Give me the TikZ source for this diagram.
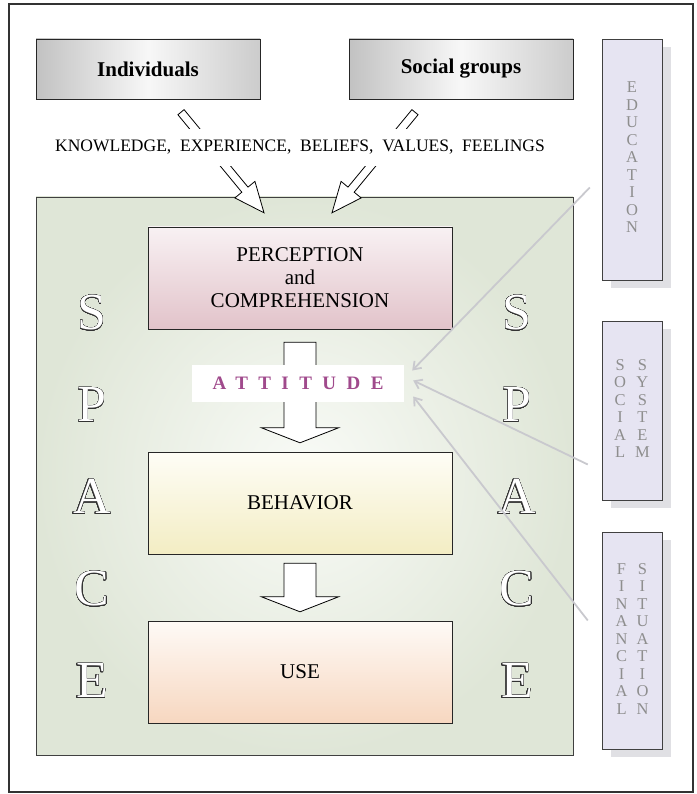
\documentclass[tikz,border=0pt]{standalone}
\usepackage{fontspec}
\setmainfont{Liberation Serif}[BoldFont={Liberation Serif Bold}, ItalicFont={Liberation Serif Italic}]
\newfontfamily\spacedfont{Liberation Serif Bold}[LetterSpace=55]
\newfontfamily\sourcefont{Liberation Serif Bold}
\usepackage[copies]{contour}
\contourlength{0.4pt}
\contournumber{32}
\usetikzlibrary{calc,shadows,arrows.meta}

\definecolor{spacegreen}{HTML}{DFE6D7}
\definecolor{spacelight}{HTML}{F9FBF7}
\definecolor{perctop}{HTML}{F8F1F3}
\definecolor{percpink}{HTML}{E2C3CA}
\definecolor{behtop}{HTML}{FEFDF6}
\definecolor{behyellow}{HTML}{F3EDC3}
\definecolor{usetop}{HTML}{FEFAF6}
\definecolor{usepeach}{HTML}{F7D7C0}
\definecolor{sidelilac}{HTML}{E6E4F2}
\definecolor{sidegray}{HTML}{8E8E8E}
\definecolor{shadowgray}{HTML}{E0E0E4}
\definecolor{linkgray}{HTML}{C9C9CE}
\definecolor{attpurple}{HTML}{A04A8C}

\tikzset{
    outer-frame/.style = {draw=black!80, line width=1.6pt},
    source-box/.style = {draw=black!85, thin, rectangle, minimum width=224pt, minimum height=60pt, left color=black!24, right color=black!20, middle color=black!3, font=\sourcefont\fontsize{21}{24}\selectfont},
    space-box/.style = {draw=black!75, thin, rectangle, minimum width=537pt, minimum height=558pt, inner color=spacelight, outer color=spacegreen},
    stage-box/.style = {draw=black!85, thin, rectangle, minimum width=304pt, minimum height=102pt, align=center, font=\fontsize{21}{23}\selectfont},
    side-box/.style = {draw=black!75, thin, rectangle, fill=sidelilac, minimum width=60pt, inner sep=0pt, text=sidegray, font=\fontsize{16.5}{17.5}\selectfont, drop shadow={shadow xshift=9pt, shadow yshift=-8pt, fill=shadowgray, opacity=1}},
    space-letter/.style = {font=\fontsize{52}{52}\selectfont, inner sep=0pt},
    attitude-box/.style = {fill=white, minimum width=212pt, minimum height=37pt, text=attpurple, font=\spacedfont\fontsize{19}{19}\selectfont},
    factors/.style = {fill=white, inner xsep=4pt, inner ysep=11pt, text height=12pt, text depth=3pt, font=\fontsize{17.5}{20}\selectfont},
    block-arrow/.style = {draw=black, fill=white, line width=0.8pt, line join=miter},
    influence/.style = {draw=linkgray, line width=1.8pt, -{Straight Barb[length=7pt,width=10pt]}},
}

% tail, tip, half shaft, half head, head length
\newcommand{\hollowarrow}[5]{%
    \coordinate (habase) at ($(#2)!#5!(#1)$);
    \draw[block-arrow] ($(#1)!#3!90:(#2)$) -- ($(habase)!#3!90:(#2)$) -- ($(habase)!#4!90:(#2)$) -- (#2)
        -- ($(habase)!#4!-90:(#2)$) -- ($(habase)!#3!-90:(#2)$) -- ($(#1)!#3!-90:(#2)$) -- cycle;
}

\newcommand{\hollowletter}[1]{\contour{black!80}{\textcolor{white}{#1}}}

\begin{document}
\begin{tikzpicture}[x=1pt, y=-1pt]
\useasboundingbox (0,0) rectangle (696,794);
\draw[outer-frame] (9,4) rectangle (693,792);

% sources
\node[source-box] (ind) at (148,69) {Individuals};
\node[source-box] (soc) at (461,69) {Social groups};

% space and stages
\node[space-box] (space) at (304.5,476) {};
\node[stage-box, top color=perctop, bottom color=percpink] (perc) at (300,278) {PERCEPTION\\and\\COMPREHENSION};
\node[stage-box, top color=behtop, bottom color=behyellow] (beh) at (300,503) {BEHAVIOR};
\node[stage-box, top color=usetop, bottom color=usepeach] (use) at (300,672) {USE};

% what comes in
\coordinate (ind-out) at ($(ind.south)+(33,13)$);
\coordinate (soc-out) at ($(soc.south)+(-46,13)$);
\coordinate (perc-in1) at ($(perc.north)+(-36,-14)$);
\coordinate (perc-in2) at ($(perc.north)+(32,-14)$);
\hollowarrow{ind-out}{perc-in1}{4pt}{13pt}{30pt}
\hollowarrow{soc-out}{perc-in2}{4pt}{13pt}{30pt}
\node[factors] (factors) at (300,147.5) {KNOWLEDGE,\ \ EXPERIENCE,\ \ BELIEFS,\ \ VALUES,\ \ FEELINGS};

% down the stages
\coordinate (perc-out) at ($(perc.south)+(0,13)$);
\coordinate (beh-in) at ($(beh.north)+(0,-9)$);
\coordinate (beh-out) at ($(beh.south)+(0,9)$);
\coordinate (use-in) at ($(use.north)+(0,-9)$);
\hollowarrow{perc-out}{beh-in}{16pt}{38.5pt}{15pt}
\hollowarrow{beh-out}{use-in}{16pt}{38.5pt}{15pt}

\node[attitude-box] (att) at (298,383.5) {ATTITUDE};

% SPACE on both sides
\foreach \ch [count=\i from 0] in {S,P,A,C,E} {
    \node[space-letter] (left-\ch) at (92,313+92*\i) {\hollowletter{\ch}};
    \node[space-letter] (right-\ch) at (517,313+92*\i) {\hollowletter{\ch}};
}

% outside factors
\node[side-box, minimum height=241pt] (edu) at (632,159.5) {\begin{tabular}{@{}c@{}}E\\D\\U\\C\\A\\T\\I\\O\\N\end{tabular}};
\node[side-box, minimum height=179pt] (sys) at (632,410.5) {\begin{tabular}{@{}c@{\hspace{9pt}}c@{}}S&S\\O&Y\\C&S\\I&T\\A&E\\L&M\end{tabular}};
\node[side-box, minimum height=217pt] (fin) at (632,640.5) {\begin{tabular}{@{}c@{\hspace{9pt}}c@{}}F&S\\I&I\\N&T\\A&U\\N&A\\C&T\\I&I\\A&O\\L&N\end{tabular}};

\coordinate (edu-link) at ($(edu.west)+(-12,28)$);
\coordinate (sys-link) at ($(sys.west)+(-14,54)$);
\coordinate (fin-link) at ($(fin.west)+(-14,-20)$);
\draw[influence] (edu-link) -- ($(att.east)+(8,-13)$);
\draw[influence] (sys-link) -- ($(att.east)+(9,-3)$);
\draw[influence] (fin-link) -- ($(att.east)+(9,13)$);
\end{tikzpicture}
\end{document}
